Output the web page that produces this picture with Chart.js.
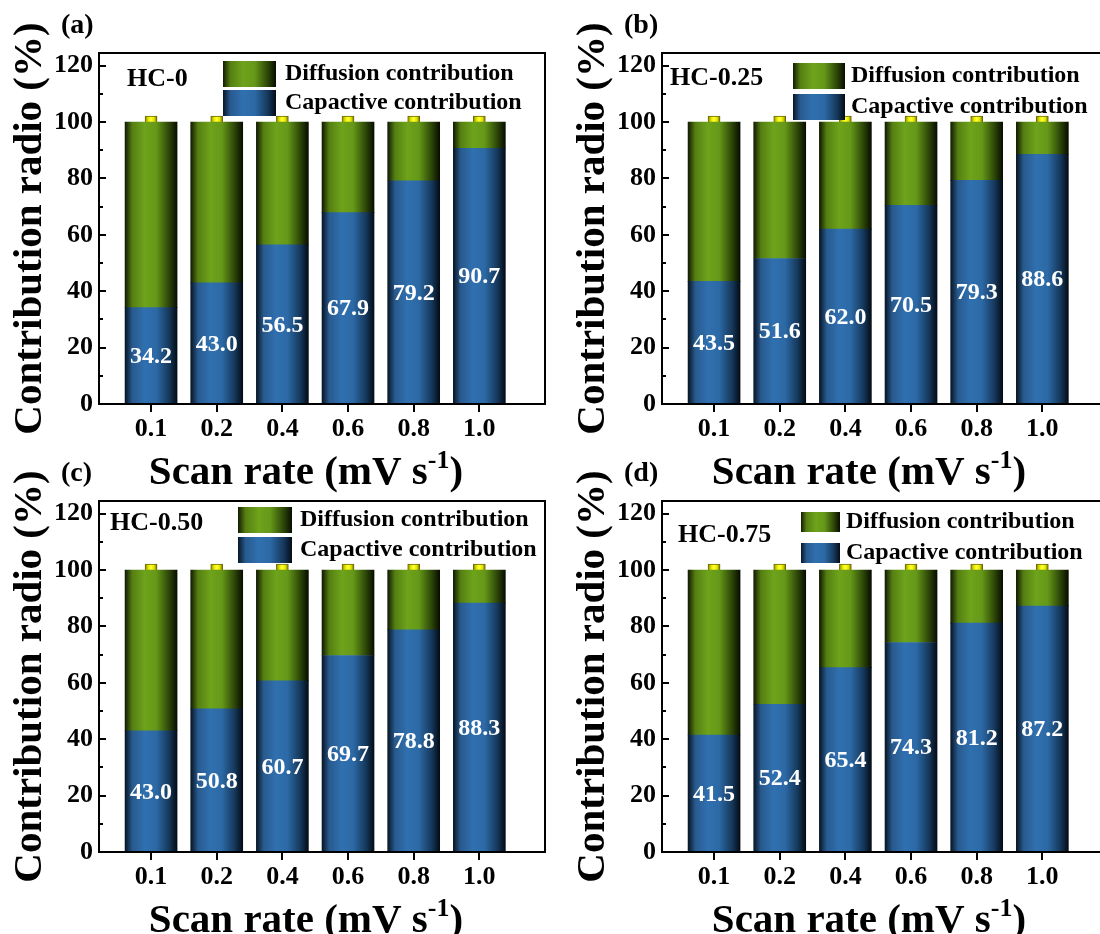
<!DOCTYPE html>
<html>
<head>
<meta charset="utf-8">
<title>Contribution radio</title>
<script src="https://cdn.jsdelivr.net/npm/chart.js"></script>
<style>
  html, body { margin: 0; padding: 0; background: #fff; overflow: hidden; }
  #wrap { position: relative; width: 1100px; height: 934px; overflow: hidden; }
  #wrap canvas { position: absolute; }
</style>
</head>
<body>
<div id="wrap">
  <canvas id="pa" width="563" height="500" style="left:0;top:0"></canvas>
  <canvas id="pb" width="563" height="500" style="left:563px;top:0"></canvas>
  <canvas id="pc" width="563" height="500" style="left:0;top:448px"></canvas>
  <canvas id="pd" width="563" height="500" style="left:563px;top:448px"></canvas>
</div>
<script>
  // scan rates (mV s-1) and y ticks
  const rates = ['0.1', '0.2', '0.4', '0.6', '0.8', '1.0'];
  const yTicks = [0, 20, 40, 60, 80, 100, 120];
  const seriesNames = ['Capactive contribution', 'Diffusion contribution'];

  // HC-0
  const capA = [34.2, 43.0, 56.5, 67.9, 79.2, 90.7];
  const diffA = [65.8, 57.0, 43.5, 32.1, 20.8, 9.3];
  // HC-0.25
  const capB = [43.5, 51.6, 62.0, 70.5, 79.3, 88.6];
  const diffB = [56.5, 48.4, 38.0, 29.5, 20.7, 11.4];
  // HC-0.50
  const capC = [43.0, 50.8, 60.7, 69.7, 78.8, 88.3];
  const diffC = [57.0, 49.2, 39.3, 30.3, 21.2, 11.7];
  // HC-0.75
  const capD = [41.5, 52.4, 65.4, 74.3, 81.2, 87.2];
  const diffD = [58.5, 47.6, 34.6, 25.7, 18.8, 12.8];

  const SERIF = "'Liberation Serif', 'Times New Roman', serif";
  const BAR_W = 52;   // bar thickness in px
  const TIP_W = 12;   // little yellow cap on top of each bar
  const TIP = 2.1;

  Chart.defaults.font.family = SERIF;
  Chart.defaults.font.weight = 'bold';
  Chart.defaults.color = '#000';

  const greenStops = [[0, '#121c02'], [0.14, '#557f12'], [0.38, '#6ea31b'], [0.6, '#659818'], [0.85, '#2b4407'], [1, '#080d01']];
  const blueStops = [[0, '#081626'], [0.14, '#285a8e'], [0.38, '#3070b0'], [0.6, '#2c69a5'], [0.85, '#15375a'], [1, '#040c16']];
  const yellowStops = [[0, '#8a8a00'], [0.3, '#eeee00'], [0.5, '#ffff33'], [0.75, '#e6e600'], [1, '#6e6e00']];

  function grad(ctx, x0, w, stops) {
    const g = ctx.createLinearGradient(x0, 0, x0 + w, 0);
    stops.forEach(s => g.addColorStop(s[0], s[1]));
    return g;
  }

  // horizontal shading for each bar, computed from the x scale
  function fillFor(stops, thick) {
    return (c) => {
      const xs = c.chart.scales.x;
      if (!xs || !c.raw) return stops[2][1];
      const px = xs.getPixelForValue(c.raw.x);
      if (!isFinite(px)) return stops[2][1];
      return grad(c.chart.ctx, px - thick / 2, thick, stops);
    };
  }

  function decor(p) {
    return {
      id: 'decor',
      afterDraw(chart) {
        const {ctx, chartArea: a, scales: {x, y}} = chart;
        ctx.save();

        // values inside the blue segments
        ctx.fillStyle = '#fff';
        ctx.font = 'bold 24px ' + SERIF;
        ctx.textAlign = 'center';
        ctx.textBaseline = 'middle';
        chart.getDatasetMeta(0).data.forEach((el, i) => {
          ctx.fillText(p.cap[i].toFixed(1), el.x, (el.y + el.base) / 2 + 1);
        });

        // frame and ticks
        ctx.strokeStyle = '#000';
        ctx.lineWidth = 2;
        ctx.strokeRect(a.left, a.top, a.right - a.left, a.bottom - a.top);
        for (let v = 0; v <= 120; v += 10) {
          const py = Math.round(y.getPixelForValue(v));
          const len = v % 20 === 0 ? 7 : 4;
          ctx.beginPath(); ctx.moveTo(a.left, py); ctx.lineTo(a.left + len, py); ctx.stroke();
        }
        rates.forEach((r, i) => {
          const px = Math.round(x.getPixelForValue(i + 1));
          ctx.beginPath(); ctx.moveTo(px, a.bottom); ctx.lineTo(px, a.bottom + 8); ctx.stroke();
        });

        // sample name
        ctx.fillStyle = '#000';
        ctx.textAlign = 'left';
        ctx.font = 'bold 26px ' + SERIF;
        ctx.fillText(p.name, p.hc[0], p.hc[1]);

        // legend
        const L = p.leg;
        const ds = chart.data.datasets;
        [[greenStops, ds[1].label], [blueStops, ds[0].label]].forEach(([stops, label], k) => {
          const top = L.y[k];
          ctx.fillStyle = grad(ctx, L.x, L.w, stops);
          ctx.fillRect(L.x, top, L.w, L.h);
          ctx.fillStyle = '#000';
          ctx.font = 'bold 24px ' + SERIF;
          ctx.fillText(label, L.tx, top + L.h / 2);
        });

        // panel letter
        ctx.font = 'bold 28px ' + SERIF;
        ctx.fillText(p.letter, 61, 26);

        // y title
        ctx.save();
        ctx.translate(30, (a.top + a.bottom) / 2);
        ctx.rotate(-Math.PI / 2);
        ctx.textAlign = 'center';
        ctx.font = 'bold 41px ' + SERIF;
        ctx.fillText('Contribution radio (%)', 0, 0);
        ctx.restore();

        // x title with superscript
        ctx.textBaseline = 'alphabetic';
        ctx.textAlign = 'left';
        const big = 'bold 41px ' + SERIF, small = 'bold 26px ' + SERIF;
        const t1 = 'Scan rate (mV s', t2 = '-1', t3 = ')';
        ctx.font = big; const w1 = ctx.measureText(t1).width, w3 = ctx.measureText(t3).width;
        ctx.font = small; const w2 = ctx.measureText(t2).width;
        let tx = 306 - (w1 + w2 + w3) / 2;
        const base = 484;
        ctx.font = big; ctx.fillText(t1, tx, base); tx += w1;
        ctx.font = small; ctx.fillText(t2, tx, base - 16); tx += w2;
        ctx.font = big; ctx.fillText(t3, tx, base);

        ctx.restore();
      }
    };
  }

  function makePanel(p) {
    new Chart(document.getElementById(p.id), {
      type: 'bar',
      data: {
        datasets: [
          { label: seriesNames[0], data: p.cap.map((v, i) => ({x: i + 1, y: v})), stack: 's',
            barThickness: BAR_W, backgroundColor: fillFor(blueStops, BAR_W) },
          { label: seriesNames[1], data: p.diff.map((v, i) => ({x: i + 1, y: v})), stack: 's',
            barThickness: BAR_W, backgroundColor: fillFor(greenStops, BAR_W) },
          { label: 'tip', data: rates.map((r, i) => ({x: i + 1, y: TIP})), stack: 's',
            barThickness: TIP_W, backgroundColor: fillFor(yellowStops, TIP_W), borderColor: '#6a6a10', borderWidth: 1 }
        ]
      },
      options: {
        responsive: false,
        animation: false,
        layout: { padding: { top: 53, right: 18, left: 0, bottom: 0 } },
        plugins: { legend: { display: false }, tooltip: { enabled: false } },
        scales: {
          x: {
            type: 'linear', min: 0.207, max: 7.0, offset: false,
            grid: { display: false, drawTicks: false }, border: { display: false },
            afterFit: s => { s.height = 96; },
            afterBuildTicks: s => { s.ticks = rates.map((r, i) => ({value: i + 1})); },
            ticks: { autoSkip: false, maxRotation: 0, padding: 10, font: { size: 26, weight: 'bold' },
                     callback: (v, i) => rates[i] }
          },
          y: {
            min: 0, max: 124.5,
            grid: { display: false, drawTicks: false }, border: { display: false },
            afterFit: s => { s.width = 99; },
            afterBuildTicks: s => { s.ticks = yTicks.map(v => ({value: v})); },
            ticks: { padding: 6, font: { size: 26, weight: 'bold' } }
          }
        }
      },
      plugins: [decor(p)]
    });
  }

  makePanel({ id: 'pa', letter: '(a)', name: 'HC-0', cap: capA, diff: diffA, hc: [127, 79],
              leg: { x: 223, y: [61, 90], w: 53, h: 26, tx: 285 } });
  makePanel({ id: 'pb', letter: '(b)', name: 'HC-0.25', cap: capB, diff: diffB, hc: [107, 78],
              leg: { x: 230, y: [63, 94], w: 52, h: 26, tx: 288 } });
  makePanel({ id: 'pc', letter: '(c)', name: 'HC-0.50', cap: capC, diff: diffC, hc: [110, 75],
              leg: { x: 238, y: [59, 89], w: 54, h: 26, tx: 300 } });
  makePanel({ id: 'pd', letter: '(d)', name: 'HC-0.75', cap: capD, diff: diffD, hc: [115, 87],
              leg: { x: 238, y: [64, 95], w: 39, h: 20, tx: 283 } });
</script>
</body>
</html>
